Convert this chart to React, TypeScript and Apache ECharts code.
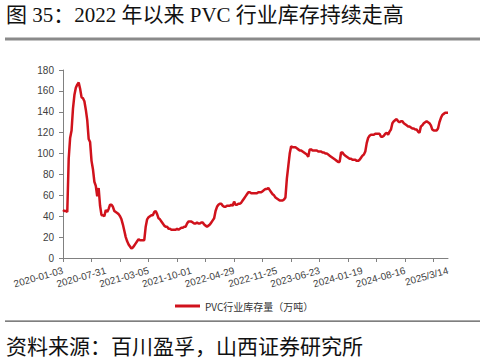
import React, { useEffect, useRef } from "react";
import * as echarts from "echarts";

const titleText = "图 35：2022 年以来 PVC 行业库存持续走高";
const sourceText = "资料来源：百川盈孚，山西证券研究所";
const seriesName = "PVC行业库存量（万吨）";

const startDate = "2020-01-03";
const skippedWeeks = ["2021-02-12"];
const lastLabel = "2025/3/14";
const weekCount = 271;

const inventory: number[] = [
  46, 45, 45, 44, 95, 115, 122, 143, 156, 163,
  166, 168, 162, 154, 153, 150, 142, 132, 114, 111,
  93, 85, 73, 69, 59, 67, 50, 41, 41, 40,
  46, 44, 47, 51, 51, 49, 45, 44, 43, 42,
  40, 37, 32, 26, 20, 16, 13, 11, 9, 10,
  12, 14, 16, 18, 17, 17, 17, 17, 30, 37,
  39, 40, 41, 41, 44, 45, 42, 38, 37, 35,
  33, 31, 30, 30, 28, 28, 27, 27, 27, 27,
  28, 27, 28, 29, 29, 30, 30, 33, 35, 35,
  35, 34, 33, 33, 34, 33, 33, 34, 34, 32,
  31, 30, 31, 32, 34, 36, 38, 45, 49, 51,
  52, 52, 50, 49, 49, 50, 50, 50, 51, 50,
  54, 51, 51, 52, 52, 53, 55, 57, 59, 61,
  63, 63, 62, 62, 62, 62, 62, 63, 63, 63,
  64, 65, 66, 66, 67, 65, 63, 61, 60, 58,
  57, 56, 55, 55, 55, 56, 58, 76, 88, 100,
  107, 106, 106, 106, 105, 104, 103, 103, 102, 101,
  100, 99, 97, 104, 104, 103, 103, 103, 103, 102,
  102, 102, 101, 101, 100, 100, 99, 98, 97, 96,
  95, 94, 93, 92, 92, 101, 101, 99, 98, 97,
  96, 95, 95, 94, 94, 94, 93, 93, 94, 96,
  98, 99, 102, 110, 115, 117, 118, 118, 118, 119,
  119, 119, 119, 116, 116, 117, 119, 120, 118, 121,
  123, 129, 131, 132, 133, 131, 130, 131, 131, 129,
  128, 127, 126, 126, 125, 124, 124, 123, 123, 121,
  120, 126, 127, 129, 130, 131, 130, 129, 127, 123,
  122, 122, 122, 124, 130, 134, 137, 138, 139, 139,
  139,
];

function buildCategories(): string[] {
  const out: string[] = [];
  let t = Date.parse(startDate + "T00:00:00Z");
  while (out.length < weekCount) {
    const d = new Date(t);
    const s =
      d.getUTCFullYear() +
      "-" +
      String(d.getUTCMonth() + 1).padStart(2, "0") +
      "-" +
      String(d.getUTCDate()).padStart(2, "0");
    if (!skippedWeeks.includes(s)) out.push(s);
    t += 7 * 24 * 3600 * 1000;
  }
  out[out.length - 1] = lastLabel;
  return out;
}

const categories = buildCategories();

export default function App() {
  const ref = useRef<HTMLDivElement>(null);
  useEffect(() => {
    document.body.style.margin = "0";
    if (!ref.current) return;
    const chart = echarts.init(ref.current, null, { renderer: "svg" });
    const axisGray = "#808080";
    chart.setOption({
      animation: false,
      backgroundColor: "#ffffff",
      grid: { left: 63, right: 37, top: 70, bottom: 103, containLabel: false },
      legend: {
        data: [seriesName],
        left: 170,
        top: 296,
        icon: "rect",
        itemWidth: 25,
        itemHeight: 3,
        itemGap: 4,
        textStyle: { fontSize: 10, color: "#333", fontFamily: "Noto Sans CJK SC" },
      },
      xAxis: {
        type: "category",
        data: categories,
        boundaryGap: false,
        axisLine: { lineStyle: { color: axisGray, width: 1 } },
        axisTick: { interval: 19, length: 4, lineStyle: { color: axisGray } },
        axisLabel: {
          interval: 29,
          rotate: 16,
          margin: 12,
          fontSize: 10,
          color: "#404040",
          fontFamily: "Liberation Sans, Arial, sans-serif",
        },
        splitLine: { show: false },
      },
      yAxis: {
        type: "value",
        min: 0,
        max: 180,
        interval: 20,
        axisLine: { show: true, lineStyle: { color: axisGray, width: 1 } },
        axisTick: { show: true, length: 4, lineStyle: { color: axisGray } },
        axisLabel: {
          fontSize: 10,
          margin: 9,
          color: "#404040",
          fontFamily: "Liberation Sans, Arial, sans-serif",
        },
        splitLine: { show: false },
      },
      series: [
        {
          name: seriesName,
          type: "line",
          data: inventory,
          showSymbol: false,
          symbol: "none",
          lineStyle: { color: "#d0121c", width: 2.5 },
          itemStyle: { color: "#d0121c" },
        },
      ],
      graphic: [
        {
          type: "text",
          x: 6,
          y: 15,
          style: {
            text: titleText,
            fontSize: 21,
            fontFamily: '"Liberation Serif", "Noto Sans CJK SC", serif',
            fill: "#111",
            verticalAlign: "middle",
          },
        },
        {
          type: "rect",
          shape: { x: 5, y: 37.5, width: 475, height: 3 },
          style: { fill: "#8a8a8a" },
        },
        {
          type: "rect",
          shape: { x: 5, y: 320.5, width: 475, height: 1.2 },
          style: { fill: "#555" },
        },
        {
          type: "text",
          x: 6,
          y: 345,
          style: {
            text: sourceText,
            fontSize: 21,
            fontFamily: '"Noto Sans CJK SC", sans-serif',
            fill: "#111",
            verticalAlign: "middle",
          },
        },
      ],
    });
    return () => chart.dispose();
  }, []);
  return <div ref={ref} style={{ width: 485, height: 361 }} />;
}
